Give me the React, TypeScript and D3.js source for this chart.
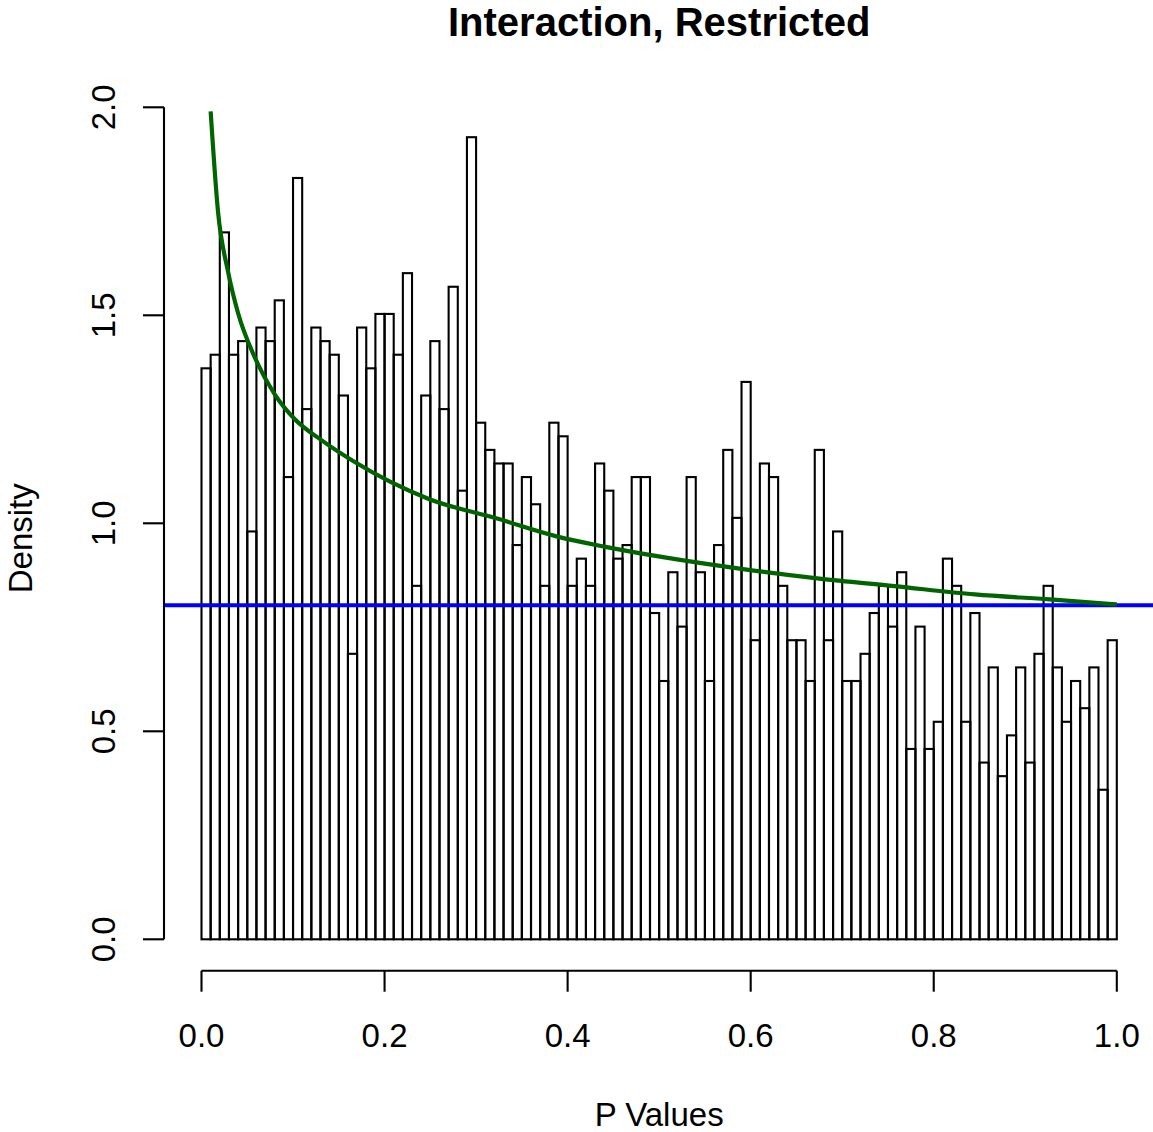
import React from "react";
import * as d3 from "d3";

// Histogram: 100 bins of width 0.01 on [0, 1]; counts per bin
const binStarts: number[] = d3.range(0, 100).map((i) => i / 100);
const binCounts: number[] = [
  42, 43, 52, 43, 44, 30, 45, 44, 47, 34, 56, 39, 45, 44, 43, 40,
  21,
  45, 42, 46, 46, 43, 49, 26, 40, 44, 39, 48, 33, 59, 38, 36, 35, 35,
  29, 34, 32, 26, 38, 37, 26, 28, 26, 35, 33, 28, 29, 34, 34, 24, 19,
  27, 23, 34, 27, 19, 29, 36, 31, 41, 22, 35, 34, 26, 22, 22, 19, 36,
  22, 30, 19, 19, 21, 24, 26, 23, 27, 14, 23, 14, 16, 28, 26, 16, 24,
  13, 20, 12, 15, 20, 13, 21, 26, 20, 16, 19, 17, 20, 11, 22,
];
const totalN = 3060;
const binWidth = 0.01;

// Fitted density curve (green)
const curveX: number[] = [0.01, 0.018, 0.029, 0.04, 0.058, 0.08, 0.102, 0.131, 0.167, 0.206, 0.249, 0.322, 0.389, 0.44, 0.506, 0.588, 0.675, 0.757, 0.845, 0.927, 1.0];
const curveY: number[] = [1.99, 1.75, 1.605, 1.505, 1.40, 1.31, 1.25, 1.20, 1.148, 1.10, 1.058, 1.012, 0.968, 0.944, 0.918, 0.891, 0.867, 0.849, 0.829, 0.817, 0.805];

// Horizontal reference line (blue)
const refLevel = 0.803;

const xTicks: number[] = [0, 0.2, 0.4, 0.6, 0.8, 1.0];
const xTickLabels: string[] = ["0.0", "0.2", "0.4", "0.6", "0.8", "1.0"];
const yTicks: number[] = [0, 0.5, 1.0, 1.5, 2.0];
const yTickLabels: string[] = ["0.0", "0.5", "1.0", "1.5", "2.0"];

const titleText = "Interaction, Restricted";
const xLabel = "P Values";
const yLabel = "Density";

const W = 1153;
const H = 1132;
const FONT = "'Liberation Sans', Arial, Helvetica, sans-serif";

export default function App() {
  const x = d3.scaleLinear().domain([0, 1]).range([201.5, 1116.8]);
  const y = d3.scaleLinear().domain([0, 2]).range([939.3, 107.3]);
  const plotLeft = x(-0.04);
  const plotRight = x(1.04);
  const plotTop = y(2.005);
  const plotBottom = y(-0.077);

  const densities = binCounts.map((c) => c / (totalN * binWidth));
  const curvePts: [number, number][] = curveX.map((v, i) => [v, curveY[i]]);
  const line = d3
    .line<[number, number]>()
    .x((d) => x(d[0]))
    .y((d) => y(d[1]))
    .curve(d3.curveMonotoneX);

  const axisY = 970.7;
  const axisX = 164;
  const tickLen = 21;
  const lw = 2.1;

  return (
    <svg
      width={W}
      height={H}
      style={{ position: "absolute", left: 0, top: 0, display: "block", background: "#fff" }}
    >
      <rect x={0} y={0} width={W} height={H} fill="#fff" />
      <defs>
        <clipPath id="plotclip">
          <rect x={plotLeft} y={plotTop} width={plotRight - plotLeft} height={plotBottom - plotTop} />
        </clipPath>
      </defs>
      {/* bars */}
      <g>
        {binStarts.map((b, i) => (
          <rect
            key={i}
            x={x(b)}
            y={y(densities[i])}
            width={x(b + binWidth) - x(b)}
            height={y(0) - y(densities[i])}
            fill="none"
            stroke="#000"
            strokeWidth={lw}
          />
        ))}
      </g>
      {/* reference line */}
      <line
        x1={plotLeft}
        x2={plotRight}
        y1={y(refLevel)}
        y2={y(refLevel)}
        stroke="#0000ff"
        strokeWidth={4.2}
        clipPath="url(#plotclip)"
      />
      {/* fitted curve */}
      <path
        d={line(curvePts) || ""}
        fill="none"
        stroke="#006400"
        strokeWidth={4.2}
        clipPath="url(#plotclip)"
      />
      {/* x axis */}
      <line x1={x(0)} x2={x(1)} y1={axisY} y2={axisY} stroke="#000" strokeWidth={lw} />
      {xTicks.map((t, i) => (
        <g key={i}>
          <line x1={x(t)} x2={x(t)} y1={axisY} y2={axisY + tickLen} stroke="#000" strokeWidth={lw} />
          <text x={x(t)} y={1047} textAnchor="middle" fontFamily={FONT} fontSize={33}>
            {xTickLabels[i]}
          </text>
        </g>
      ))}
      {/* y axis */}
      <line x1={axisX} x2={axisX} y1={y(0)} y2={y(2)} stroke="#000" strokeWidth={lw} />
      {yTicks.map((t, i) => (
        <g key={i}>
          <line x1={axisX - tickLen} x2={axisX} y1={y(t)} y2={y(t)} stroke="#000" strokeWidth={lw} />
          <text
            transform={`translate(115,${y(t)}) rotate(-90)`}
            textAnchor="middle"
            fontFamily={FONT}
            fontSize={33}
          >
            {yTickLabels[i]}
          </text>
        </g>
      ))}
      {/* labels */}
      <text x={(plotLeft + plotRight) / 2} y={36} textAnchor="middle" fontFamily={FONT} fontSize={40} fontWeight="bold">
        {titleText}
      </text>
      <text x={(plotLeft + plotRight) / 2} y={1126} textAnchor="middle" fontFamily={FONT} fontSize={33}>
        {xLabel}
      </text>
      <text
        transform={`translate(32,${(plotTop + plotBottom) / 2}) rotate(-90)`}
        textAnchor="middle"
        fontFamily={FONT}
        fontSize={33}
      >
        {yLabel}
      </text>
    </svg>
  );
}
